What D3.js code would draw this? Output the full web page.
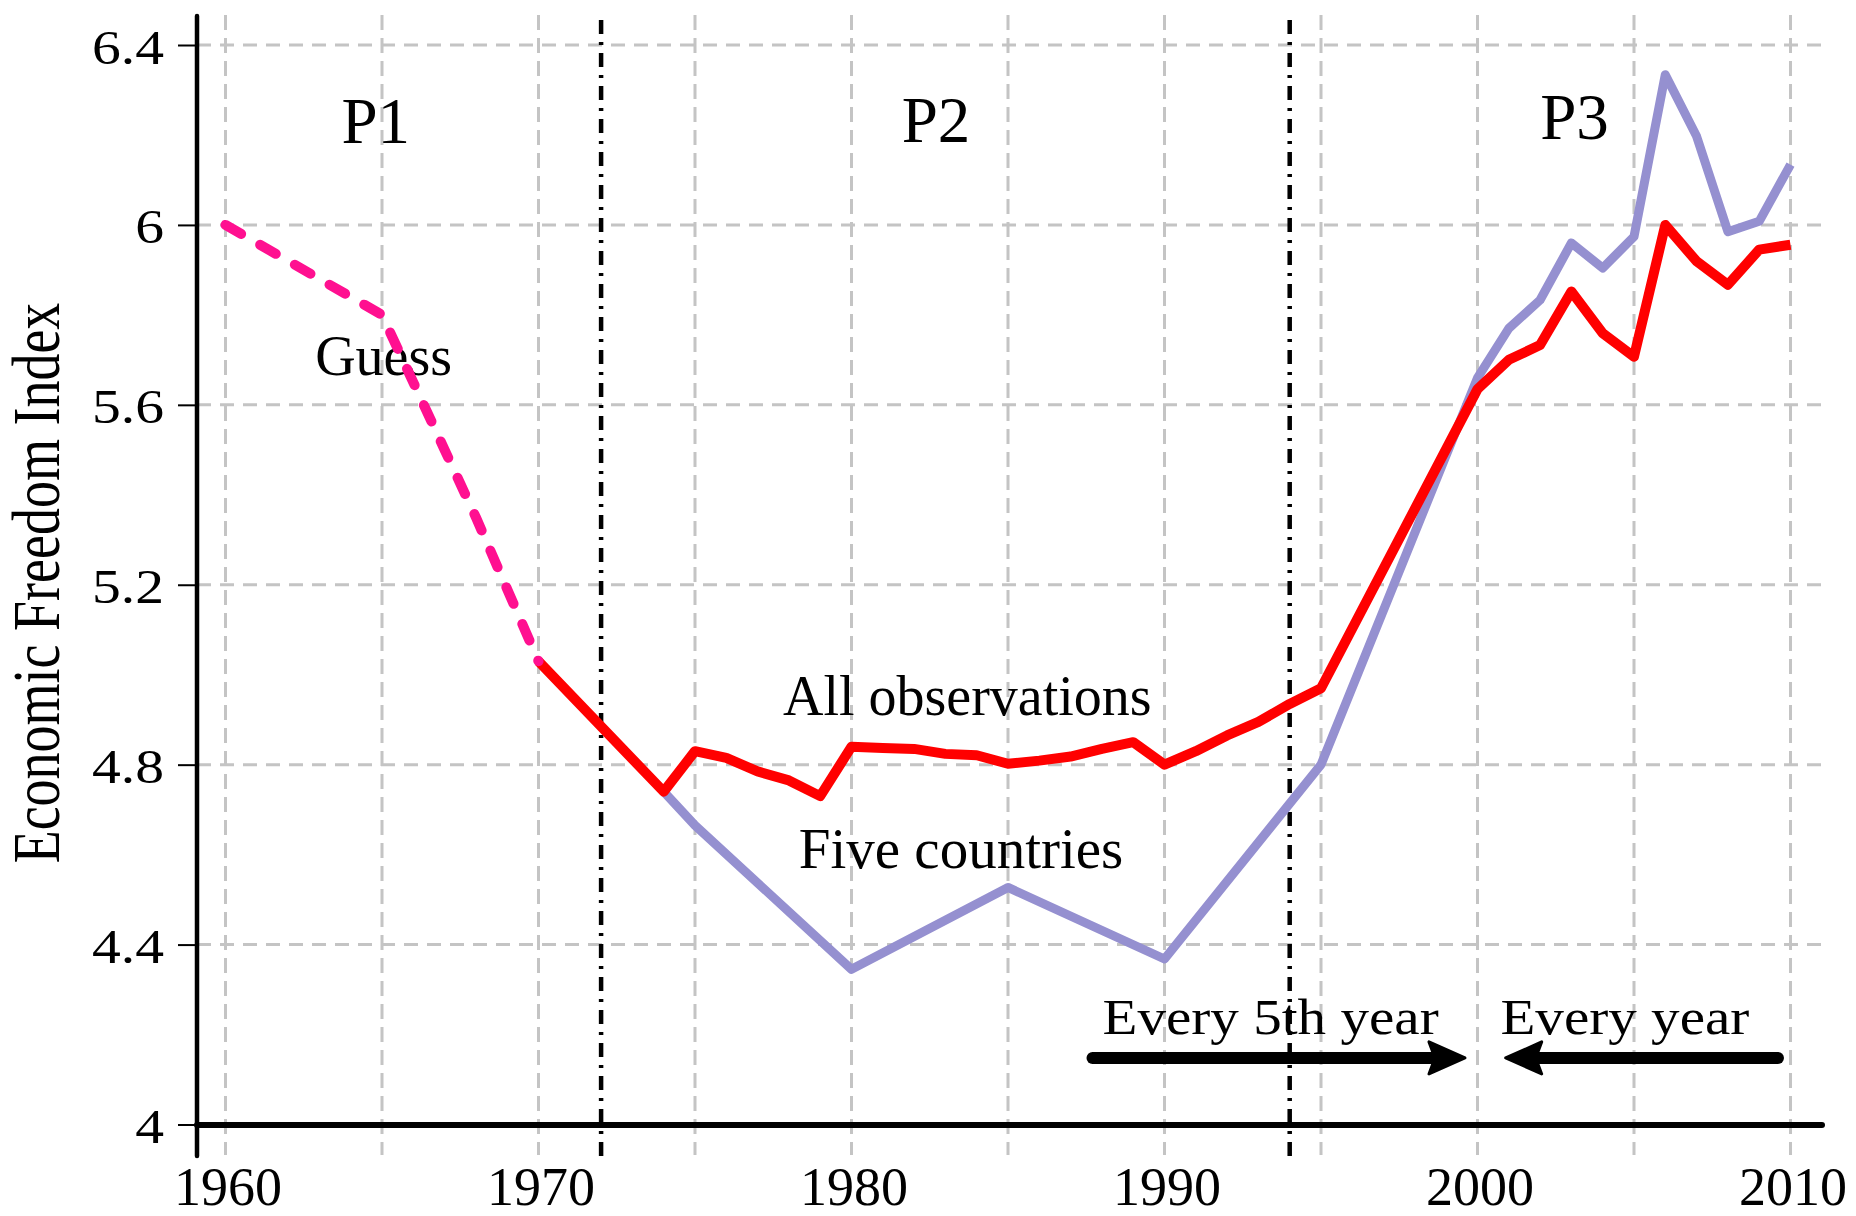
<!DOCTYPE html>
<html>
<head>
<meta charset="utf-8">
<script src="https://cdn.jsdelivr.net/npm/d3@7"></script>
<style>
  html, body { margin: 0; padding: 0; background: #ffffff; }
  svg { display: block; font-family: "Liberation Serif", "Times New Roman", serif; }
</style>
</head>
<body>
<svg id="chart" width="1856" height="1216"></svg>
<script>
// ---------------- data ----------------
const guessYears  = [1960, 1965, 1966, 1967, 1968, 1969, 1970];
const guessValues = [6.00, 5.80, 5.65, 5.50, 5.35, 5.19, 5.03];

const allYears  = [1970, 1974, 1975, 1976, 1977, 1978, 1979, 1980, 1981, 1982, 1983, 1984, 1985,
                   1986, 1987, 1988, 1989, 1990, 1991, 1992, 1993, 1994, 1995,
                   2000, 2001, 2002, 2003, 2004, 2005, 2006, 2007, 2008, 2009, 2010];
const allValues = [5.03, 4.74, 4.83, 4.815, 4.785, 4.765, 4.73, 4.84, 4.837, 4.835, 4.824, 4.821, 4.802,
                   4.809, 4.818, 4.835, 4.85, 4.80, 4.83, 4.865, 4.895, 4.935, 4.97,
                   5.635, 5.70, 5.733, 5.852, 5.759, 5.707, 6.00, 5.919, 5.867, 5.945, 5.956];

const fiveYears  = [1974, 1975, 1980, 1985, 1990, 1995, 2000, 2001, 2002, 2003, 2004, 2005, 2006, 2007, 2008, 2009, 2010];
const fiveValues = [4.74, 4.665, 4.345, 4.527, 4.368, 4.80, 5.66, 5.77, 5.833, 5.96, 5.904, 5.974, 6.334, 6.197, 5.985, 6.008, 6.134];

const xTicks = [1960, 1970, 1980, 1990, 2000, 2010];
const xTickLabels = ["1960", "1970", "1980", "1990", "2000", "2010"];
const xGridYears = [1960, 1965, 1970, 1975, 1980, 1985, 1990, 1995, 2000, 2005, 2010];
const yTicks = [4, 4.4, 4.8, 5.2, 5.6, 6, 6.4];
const yTickLabels = ["4", "4.4", "4.8", "5.2", "5.6", "6", "6.4"];
const yGridValues = [4.4, 4.8, 5.2, 5.6, 6, 6.4];
const periodBreaks = [1972, 1994];

const periodLabels = ["P1", "P2", "P3"];
const periodLabelYears = [1964.8, 1982.7, 2003.1];
const periodLabelValues = [6.183, 6.185, 6.19];

const noteTexts  = ["Guess", "All observations", "Five countries", "Every 5th year", "Every year"];
const noteYears  = [1965.05, 1983.7, 1983.5, 1993.39, 2004.71];
const noteValues = [5.666, 4.91, 4.571, 4.202, 4.202];

const arrowFrom = [1987.7, 2009.6];
const arrowTo   = [1999.6, 2000.9];
const arrowValue = 4.148;

const yTitle = "Economic Freedom Index";

// ---------------- layout ----------------
const svg = d3.select("#chart");
const x = d3.scaleLinear().domain([1960, 2010]).range([225.5, 1790.5]);
const y = d3.scaleLinear().domain([4, 6.4]).range([1124.5, 45]);
const axisX = 197, axisY = 1125;
const plotRight = 1822, plotTop = 15, plotBottom = 1155;

const gridColor = "#c4c4c4";

// vertical grid
svg.append("g").selectAll("line").data(xGridYears).join("line")
  .attr("x1", d => x(d)).attr("x2", d => x(d))
  .attr("y1", plotTop).attr("y2", plotBottom)
  .attr("stroke", gridColor).attr("stroke-width", 3)
  .attr("stroke-dasharray", "15,8");

// horizontal grid
svg.append("g").selectAll("line").data(yGridValues).join("line")
  .attr("x1", axisX).attr("x2", plotRight)
  .attr("y1", d => y(d)).attr("y2", d => y(d))
  .attr("stroke", gridColor).attr("stroke-width", 3)
  .attr("stroke-dasharray", "14,9");

// period break lines (dash-dot)
svg.append("g").selectAll("line").data(periodBreaks).join("line")
  .attr("x1", d => x(d)).attr("x2", d => x(d))
  .attr("y1", 20).attr("y2", 1157)
  .attr("stroke", "#000").attr("stroke-width", 4.5)
  .attr("stroke-dasharray", "14,8,3,8");

// series lines
const lineGen = d3.line().x(d => x(d[0])).y(d => y(d[1])).curve(d3.curveLinear);
const zip = (a, b) => a.map((v, i) => [v, b[i]]);

svg.append("path").datum(zip(fiveYears, fiveValues))
  .attr("d", lineGen).attr("fill", "none")
  .attr("stroke", "#9590d0").attr("stroke-width", 9)
  .attr("stroke-linejoin", "round");

svg.append("path").datum(zip(allYears, allValues))
  .attr("d", lineGen).attr("fill", "none")
  .attr("stroke", "#ff0000").attr("stroke-width", 10)
  .attr("stroke-linejoin", "round");

// annotation texts
const notes = svg.append("g").attr("font-size", 56).attr("fill", "#000");
notes.selectAll("text.period").data(periodLabels).join("text")
  .attr("class", "period")
  .attr("x", (d, i) => x(periodLabelYears[i]))
  .attr("y", (d, i) => y(periodLabelValues[i]))
  .attr("text-anchor", "middle").attr("font-size", 65)
  .text(d => d);

notes.selectAll("text.note").data(noteTexts).join("text")
  .attr("class", "note")
  .attr("text-anchor", "middle")
  .attr("font-size", (d, i) => i >= 3 ? 51 : (i === 2 ? 57 : 56))
  .attr("transform", (d, i) => `translate(${x(noteYears[i])},${y(noteValues[i])}) scale(${i >= 3 ? 1.12 : 1},1)`)
  .text(d => d);

// guess line (on top)
svg.append("path").datum(zip(guessYears, guessValues))
  .attr("d", lineGen).attr("fill", "none")
  .attr("stroke", "#ff1090").attr("stroke-width", 10)
  .attr("stroke-linecap", "round").attr("stroke-linejoin", "round")
  .attr("stroke-dasharray", "18,22");

// arrows
const arrows = svg.append("g");
arrowFrom.forEach((from, i) => {
  const to = arrowTo[i];
  const dir = Math.sign(x(to) - x(from));
  const tip = x(to), yy = y(arrowValue);
  arrows.append("line")
    .attr("x1", x(from)).attr("x2", tip - dir * 20)
    .attr("y1", yy).attr("y2", yy)
    .attr("stroke", "#000").attr("stroke-width", 12)
    .attr("stroke-linecap", "round");
  arrows.append("path")
    .attr("d", `M${tip},${yy} L${tip - dir * 36},${yy - 16} L${tip - dir * 30},${yy} L${tip - dir * 36},${yy + 16} Z`)
    .attr("fill", "#000").attr("stroke", "#000").attr("stroke-width", 3).attr("stroke-linejoin", "round");
});

// axes
const yAxis = d3.axisLeft(y).tickValues(yTicks)
  .tickFormat((d, i) => yTickLabels[i]).tickSize(19).tickPadding(33);
const gy = svg.append("g").attr("transform", `translate(${axisX},0)`).call(yAxis);
gy.select(".domain").remove();
gy.selectAll(".tick line").attr("stroke", "#000").attr("stroke-width", 2);
gy.selectAll(".tick text")
  .attr("font-family", "Liberation Serif, serif")
  .attr("font-size", 48).attr("fill", "#000")
  .attr("x", null).attr("dy", null)
  .attr("text-anchor", "end")
  .attr("transform", "translate(-33,18) scale(1.2,1)");

const xAxis = d3.axisBottom(x).tickValues(xTicks)
  .tickFormat((d, i) => xTickLabels[i]).tickSize(0).tickPadding(0);
const gx = svg.append("g").attr("transform", `translate(0,${axisY})`).call(xAxis);
gx.select(".domain").remove();
gx.selectAll(".tick text")
  .attr("font-family", "Liberation Serif, serif")
  .attr("font-size", 54).attr("fill", "#000")
  .attr("y", 80).attr("dy", null).attr("dx", 2);

// axis lines
svg.append("line").attr("x1", axisX).attr("x2", axisX).attr("y1", 16).attr("y2", 1156)
  .attr("stroke", "#000").attr("stroke-width", 4.5).attr("stroke-linecap", "round");
svg.append("line").attr("x1", axisX).attr("x2", plotRight).attr("y1", axisY).attr("y2", axisY)
  .attr("stroke", "#000").attr("stroke-width", 6).attr("stroke-linecap", "round");

// y title
svg.append("text")
  .attr("transform", "translate(59,583) rotate(-90) scale(1,1.25)")
  .attr("text-anchor", "middle").attr("font-size", 54).attr("fill", "#000")
  .text(yTitle);
</script>
</body>
</html>
